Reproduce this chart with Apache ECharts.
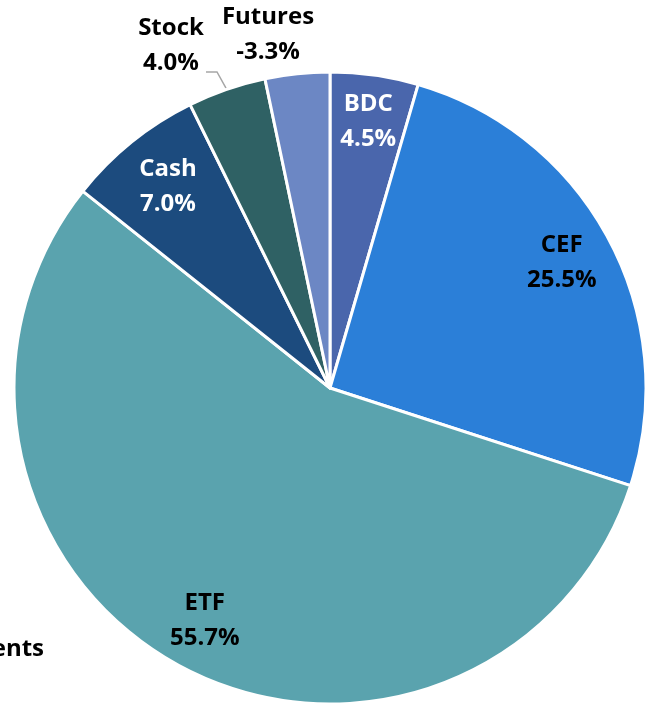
<!DOCTYPE html>
<html>
<head>
<meta charset="utf-8">
<script src="https://cdn.jsdelivr.net/npm/echarts@6/dist/echarts.min.js"></script>
<style>html,body{margin:0;padding:0;background:#fff}#c{width:650px;height:704px}</style>
</head>
<body>
<div id="c"></div>
<script>
const categories = ['BDC', 'CEF', 'ETF', 'Cash', 'Stock', 'Futures'];
const shares = [4.5, 25.5, 55.7, 7.0, 4.0, 3.3];
const labelShares = [4.5, 25.5, 55.7, 7.0, 4.0, -3.3];
const sliceColors = ['#4A66AC', '#2B7FD8', '#5AA3AE', '#1C4B7E', '#2F6164', '#6C87C4'];
const labelColors = ['#ffffff', '#000000', '#000000', '#ffffff', '#000000', '#000000'];
const insideLabel = [true, true, true, true, false, false];
const cutLabel = 'ents';

const FONT = '"Open Sans", sans-serif';
const FS = 24;
const labelNudge = [[1, -4], [-2, -2], [0, 0], [4, 5], [0, 0], [0, 0]];
const chart = echarts.init(document.getElementById('c'), null, {renderer: 'canvas'});

function fmt(i) { return categories[i] + '\n' + labelShares[i].toFixed(1) + '%'; }

const mainData = categories.map((n, i) => ({
  name: n, value: shares[i],
  itemStyle: {color: sliceColors[i]},
  label: {show: !insideLabel[i]},
  labelLine: {show: i === 4}
}));
const labelData = categories.map((n, i) => ({
  name: n, value: shares[i],
  label: {show: insideLabel[i], color: labelColors[i], offset: labelNudge[i]}
}));

chart.setOption({
  animation: false,
  backgroundColor: '#ffffff',
  graphic: [{
    type: 'text', right: 606, top: 637,
    style: {text: cutLabel, fontFamily: FONT, fontWeight: 'bold', fontSize: FS, fill: '#000'}
  }],
  series: [{
    type: 'pie',
    center: [330, 388],
    radius: [0, 316],
    startAngle: 90,
    clockwise: true,
    avoidLabelOverlap: false,
    itemStyle: {borderColor: '#ffffff', borderWidth: 3},
    label: {
      position: 'outside',
      formatter: p => fmt(p.dataIndex),
      fontFamily: FONT, fontWeight: 'bold', fontSize: FS, lineHeight: 35, color: '#000'
    },
    labelLine: {lineStyle: {color: '#a6a6a6', width: 1.5}, length: 18, length2: 10},
    labelLayout: function (params) {
      if (params.dataIndex === 4) {
        const p0 = params.labelLinePoints ? params.labelLinePoints[0] : [227, 88];
        return {x: 171, y: 46, align: 'center', verticalAlign: 'middle',
          labelLinePoints: [p0, [217, 72], [206, 72]]};
      }
      if (params.dataIndex === 5) {
        return {x: 268, y: 35, align: 'center', verticalAlign: 'middle'};
      }
      return {};
    },
    data: mainData
  }, {
    type: 'pie',
    center: [330, 388],
    radius: [207, 316],
    startAngle: 90,
    clockwise: true,
    silent: true,
    avoidLabelOverlap: false,
    itemStyle: {color: 'rgba(0,0,0,0)', borderWidth: 0},
    label: {
      position: 'inside',
      formatter: p => fmt(p.dataIndex),
      fontFamily: FONT, fontWeight: 'bold', fontSize: FS, lineHeight: 35
    },
    labelLine: {show: false},
    data: labelData
  }]
});
</script>
</body>
</html>
